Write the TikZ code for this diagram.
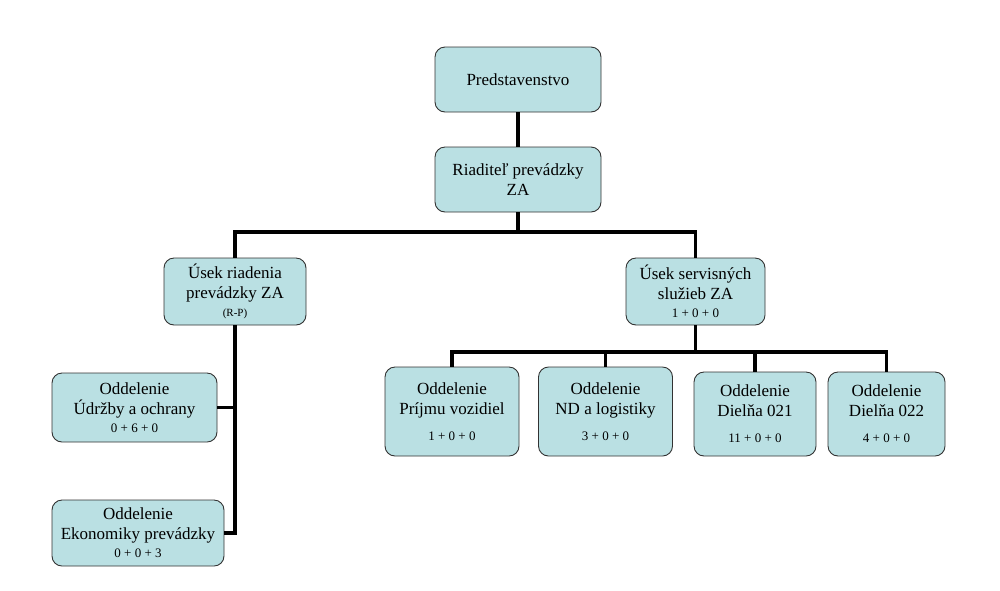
\documentclass[tikz,border=0pt]{standalone}
\usepackage{fontspec}
\setmainfont{Liberation Serif}
\definecolor{boxfill}{RGB}{186,224,227}
\definecolor{boxline}{RGB}{50,50,50}
\newcommand{\nums}[1]{{\fontsize{13}{14}\selectfont #1}}
\begin{document}
\begin{tikzpicture}[x=1pt,y=-1pt,
  box/.style={draw=boxline, line width=0.9pt, fill=boxfill, rounded corners=10pt,
    align=center, inner sep=0pt, font=\fontsize{17}{20}\selectfont},
  conn/.style={line width=3.5pt, draw=black}]
\useasboundingbox (0,0) rectangle (1000,590);
\node[box, minimum width=166pt, minimum height=65pt] (pred) at (518,79.5) {Predstavenstvo};
\node[box, minimum width=166pt, minimum height=65pt] (riad) at (518,179.5) {Riaditeľ prevádzky\\ZA};
\node[box, minimum width=142pt, minimum height=67pt] (usekR) at (235,291.5) {Úsek riadenia\\prevádzky ZA\\[-2pt]{\fontsize{11}{12}\selectfont (R-P)}};
\node[box, minimum width=139pt, minimum height=67pt] (usekS) at (695.5,291.5) {Úsek servisných\\služieb ZA\\[-2pt]\nums{1 + 0 + 0}};
\node[box, minimum width=165pt, minimum height=69pt] (udr) at (134.5,407.5) {Oddelenie\\Údržby a ochrany\\[-2pt]\nums{0 + 6 + 0}};
\node[box, minimum width=172pt, minimum height=66pt] (eko) at (138,533) {Oddelenie\\Ekonomiky prevádzky\\[-2pt]\nums{0 + 0 + 3}};
\node[box, minimum width=134pt, minimum height=89pt] (prij) at (452,411.5) {Oddelenie\\Príjmu vozidiel\\[6pt]\nums{1 + 0 + 0}};
\node[box, minimum width=134pt, minimum height=89pt] (nd) at (605.5,411.5) {Oddelenie\\ND a logistiky\\[6pt]\nums{3 + 0 + 0}};
\node[box, minimum width=122pt, minimum height=84pt] (d21) at (755,414) {Oddelenie\\Dielňa 021\\[6pt]\nums{11 + 0 + 0}};
\node[box, minimum width=117pt, minimum height=84pt] (d22) at (886.5,414) {Oddelenie\\Dielňa 022\\[6pt]\nums{4 + 0 + 0}};
% connectors
\draw[conn] (pred.south) -- (riad.north);
\coordinate (b1) at (518,232);
\draw[conn] (riad.south) -- (b1);
\draw[conn] (usekR.north) |- (b1) -| (usekS.north);
\draw[conn] (usekR.south) |- (eko.east);
\draw[conn] (udr.east) -- (udr.east -| usekR.south);
\coordinate (b2) at (695.5,352);
\draw[conn] (usekS.south) -- (b2);
\draw[conn] (prij.north) |- (b2) -| (d22.north);
\draw[conn] (nd.north) -- (nd.north |- b2);
\draw[conn] (d21.north) -- (d21.north |- b2);
\end{tikzpicture}
\end{document}
